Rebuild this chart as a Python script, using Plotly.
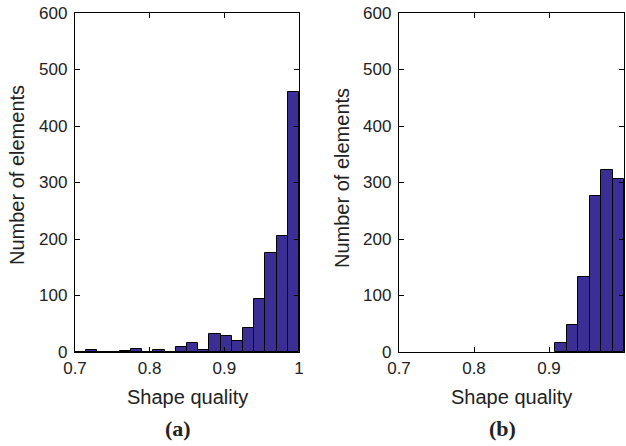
import plotly.graph_objects as go

# Panel (a) histogram: bin left edges and counts
bin_width_a = 0.015
bins_a_left = [0.700, 0.715, 0.730, 0.745, 0.760, 0.775, 0.790, 0.805, 0.820, 0.835,
               0.850, 0.865, 0.880, 0.895, 0.910, 0.925, 0.940, 0.955, 0.970, 0.985]
counts_a = [0, 4, 0, 0, 2, 6, 0, 4, 0, 8,
            16, 4, 32, 28, 20, 42, 94, 176, 205, 461]

# Panel (b) histogram
bin_width_b = 0.01525
bins_b_left = [0.90850, 0.92375, 0.93900, 0.95425, 0.96950, 0.98475]
counts_b = [16, 48, 133, 276, 322, 306]

x_ticks = [0.7, 0.8, 0.9, 1.0]
x_tick_text = ["0.7", "0.8", "0.9", "1"]
y_ticks = [0, 100, 200, 300, 400, 500, 600]

bar_color = "#3b2f95"
W, H = 626, 446

fig = go.Figure()
fig.add_trace(go.Bar(
    x=[l + bin_width_a / 2 for l in bins_a_left], y=counts_a, width=bin_width_a,
    marker=dict(color=bar_color, line=dict(color="black", width=1)),
    xaxis="x", yaxis="y", showlegend=False))
fig.add_trace(go.Bar(
    x=[l + bin_width_b / 2 for l in bins_b_left], y=counts_b, width=bin_width_b,
    marker=dict(color=bar_color, line=dict(color="black", width=1)),
    xaxis="x2", yaxis="y2", showlegend=False))

tickfont = dict(family="Liberation Sans, Arial, sans-serif", size=17, color="#222")
common_x = dict(range=[0.7, 1.0], tickvals=x_ticks, ticktext=x_tick_text,
                ticks="inside", ticklen=5, tickcolor="black", showline=True,
                linecolor="black", linewidth=1.3, mirror="allticks", showgrid=False,
                zeroline=False, tickfont=tickfont, automargin=False)
common_y = dict(range=[0, 600], tickvals=y_ticks, ticks="inside", ticklen=5,
                tickcolor="black", showline=True, linecolor="black", linewidth=1.3,
                mirror="allticks", showgrid=False, zeroline=False, tickfont=tickfont,
                automargin=False, ticklabelstandoff=3)

y_dom = [(H - 352) / H, (H - 13) / H]
fig.update_layout(
    template="none",
    width=W, height=H,
    margin=dict(l=0, r=0, t=0, b=0, pad=0),
    paper_bgcolor="white", plot_bgcolor="white",
    bargap=0,
    xaxis=dict(domain=[75 / W, 299 / W], anchor="y", **common_x),
    yaxis=dict(domain=y_dom, anchor="x", **common_y),
    xaxis2=dict(domain=[399 / W, 624 / W], anchor="y2", **common_x),
    yaxis2=dict(domain=y_dom, anchor="x2", **common_y),
)

title_font = dict(family="Liberation Sans, Arial, sans-serif", size=20, color="#222")
label_font = dict(family="Liberation Serif, Times New Roman, serif", size=22, color="#222")

ann = [
    dict(x=187 / W, y=(H - 397) / H, text="Shape quality", font=title_font),
    dict(x=511 / W, y=(H - 397) / H, text="Shape quality", font=title_font),
    dict(x=178 / W, y=(H - 428) / H, text="<b>(a)</b>", font=label_font),
    dict(x=503 / W, y=(H - 428) / H, text="<b>(b)</b>", font=label_font),
    dict(x=17 / W, y=(H - 175) / H, text="Number of elements", textangle=-90, font=title_font),
    dict(x=342 / W, y=(H - 178) / H, text="Number of elements", textangle=-90, font=title_font),
]
for a in ann:
    a.update(xref="paper", yref="paper", showarrow=False, xanchor="center", yanchor="middle")
fig.update_layout(annotations=ann)

fig.write_html("out.html", config={"displayModeBar": False},
               post_script="document.body.style.margin='0';document.body.style.padding='0';")
